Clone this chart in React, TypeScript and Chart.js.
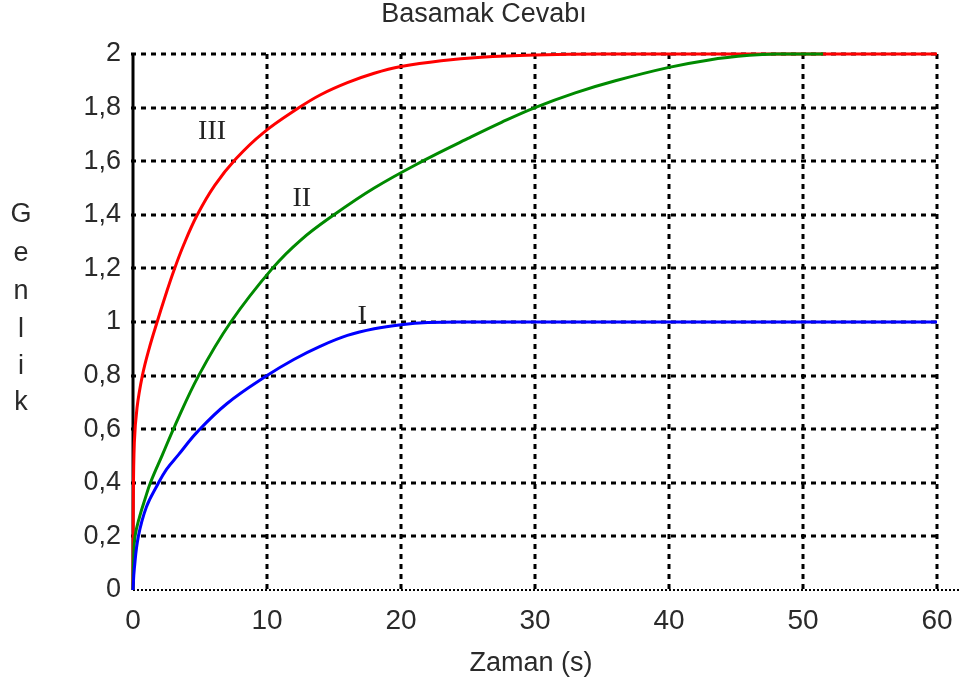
import { useEffect, useRef } from 'react';
import { Chart, registerables } from 'chart.js';

Chart.register(...registerables);

const chartTitle = 'Basamak Cevabı';
const xAxisTitle = 'Zaman (s)';
const yAxisTitle = 'Genlik';

const xTickLabels = ['0', '10', '20', '30', '40', '50', '60'];
const yTickLabels = ['0', '0,2', '0,4', '0,6', '0,8', '1', '1,2', '1,4', '1,6', '1,8', '2'];

// Curve I (blue)
const timeI = [0, 0.1, 0.4, 1, 1.8, 2.5, 3.4, 4.8, 7, 10, 12, 14, 16, 18, 20, 22, 25, 30, 40, 50, 60];
const ampI = [0, 0.08, 0.2, 0.31, 0.39, 0.45, 0.505, 0.59, 0.695, 0.8, 0.86, 0.91, 0.95, 0.975, 0.99, 0.998, 1, 1, 1, 1, 1];

// Curve II (green)
const timeII = [0, 0.05, 0.15, 0.5, 0.9, 1.3, 2.2, 3.1, 4.9, 7.3, 10.4, 12.5, 15, 18, 21.6, 25, 27.5, 30, 33, 36, 40, 43, 46, 48, 51.5];
const ampII = [0, 0.12, 0.2, 0.275, 0.34, 0.4, 0.505, 0.61, 0.8, 1.0, 1.2, 1.305, 1.4, 1.5, 1.6, 1.685, 1.745, 1.8, 1.855, 1.9, 1.95, 1.978, 1.995, 2, 2];

// Curve III (red)
const timeIII = [0, 0.02, 0.1, 0.3, 0.7, 1.2, 1.8, 2.4, 3.0, 3.8, 4.8, 6.1, 7.7, 9.7, 12.4, 14, 16, 18, 20, 23, 26, 30, 35, 45, 60];
const ampIII = [0, 0.3, 0.55, 0.68, 0.8, 0.9, 1.0, 1.095, 1.185, 1.29, 1.4, 1.51, 1.61, 1.705, 1.8, 1.848, 1.893, 1.928, 1.953, 1.975, 1.988, 1.996, 2, 2, 2];

// Curve name labels, in data coordinates
const curveLabels = ['III', 'II', 'I'];
const curveLabelX = [5.9, 12.6, 17.1];
const curveLabelY = [1.71, 1.46, 1.02];

const xGridValues = [10, 20, 30, 40, 50, 60];
const yGridValues = [0.2, 0.4, 0.6, 0.8, 1, 1.2, 1.4, 1.6, 1.8, 2];

const toPoints = (xs: number[], ys: number[]) => xs.map((x, i) => ({ x, y: ys[i] }));

const FONT = '"Liberation Sans", Arial, sans-serif';

const decorPlugin = {
  id: 'decor',
  beforeDatasetsDraw(chart: any) {
    const { ctx } = chart;
    const xs = chart.scales.x;
    const ys = chart.scales.y;
    const x0 = xs.getPixelForValue(0);
    const x60 = xs.getPixelForValue(60);
    const y0 = ys.getPixelForValue(0);
    const y2 = ys.getPixelForValue(2);
    ctx.save();
    ctx.strokeStyle = '#000';
    ctx.lineWidth = 3;
    ctx.setLineDash([5, 5]);
    for (const v of yGridValues) {
      const y = Math.round(ys.getPixelForValue(v));
      ctx.beginPath();
      ctx.moveTo(x0 - 2, y);
      ctx.lineTo(x60, y);
      ctx.stroke();
    }
    for (const v of xGridValues) {
      const x = Math.round(xs.getPixelForValue(v));
      ctx.beginPath();
      ctx.moveTo(x, y2);
      ctx.lineTo(x, y0);
      ctx.stroke();
    }
    // bottom fine dotted line
    ctx.lineWidth = 2;
    ctx.setLineDash([2, 2]);
    ctx.beginPath();
    ctx.moveTo(x0, Math.round(y0));
    ctx.lineTo(chart.width, Math.round(y0));
    ctx.stroke();
    // left solid axis
    ctx.setLineDash([]);
    ctx.lineWidth = 3;
    ctx.beginPath();
    ctx.moveTo(Math.round(x0), y2 - 1);
    ctx.lineTo(Math.round(x0), y0);
    ctx.stroke();
    ctx.restore();
  },
  afterDraw(chart: any) {
    const { ctx } = chart;
    const xs = chart.scales.x;
    const ys = chart.scales.y;
    ctx.save();
    ctx.fillStyle = '#2a2a2a';
    ctx.textAlign = 'center';
    ctx.textBaseline = 'middle';
    ctx.font = `27px ${FONT}`;
    ctx.fillText(chartTitle, 484, 15);
    ctx.fillText(xAxisTitle, (xs.left + xs.right) / 2 - 4, 664);
    const letters = yAxisTitle.split('');
    const letterY = [215, 254, 292, 330, 367, 403];
    letters.forEach((ch, i) => ctx.fillText(ch, 21, letterY[i]));
    ctx.font = `28px "Liberation Serif", "Times New Roman", serif`;
    ctx.fillStyle = '#222';
    curveLabels.forEach((t, i) => {
      ctx.fillText(t, xs.getPixelForValue(curveLabelX[i]), ys.getPixelForValue(curveLabelY[i]));
    });
    ctx.restore();
  },
};

export default function App() {
  const ref = useRef<HTMLCanvasElement | null>(null);
  useEffect(() => {
    if (!ref.current) return;
    const chart = new Chart(ref.current, {
      type: 'scatter',
      data: {
        datasets: [
          {
            label: 'I',
            data: toPoints(timeI, ampI),
            borderColor: '#0000ff',
            showLine: true,
          },
          {
            label: 'II',
            data: toPoints(timeII, ampII),
            borderColor: '#008a00',
            showLine: true,
          },
          {
            label: 'III',
            data: toPoints(timeIII, ampIII),
            borderColor: '#ff0000',
            showLine: true,
          },
        ] as any,
      },
      options: {
        animation: false,
        responsive: false,
        clip: false as any,
        layout: { padding: { top: 54, right: 22, left: 0, bottom: 0 } },
        elements: {
          point: { radius: 0, hoverRadius: 0 },
          line: { borderWidth: 3, tension: 0.4, cubicInterpolationMode: 'default', fill: false },
        },
        plugins: {
          legend: { display: false },
          title: { display: false },
          tooltip: { enabled: false },
        },
        scales: {
          x: {
            type: 'linear',
            min: 0,
            max: 60,
            afterFit: (s: any) => {
              s.height = 96;
              s.paddingRight = 0;
              s.paddingLeft = 0;
            },
            grid: { display: false, drawTicks: false },
            border: { display: false },
            ticks: {
              stepSize: 10,
              padding: 14,
              color: '#2a2a2a',
              font: { family: FONT, size: 28 },
              maxRotation: 0,
              callback: (_v: any, i: number) => xTickLabels[i],
            },
          },
          y: {
            type: 'linear',
            min: 0,
            max: 2,
            afterFit: (s: any) => {
              s.width = 133;
              s.paddingTop = 0;
              s.paddingBottom = 0;
            },
            grid: { display: false, drawTicks: false },
            border: { display: false },
            ticks: {
              stepSize: 0.2,
              padding: 12,
              color: '#2a2a2a',
              font: { family: FONT, size: 27 },
              callback: (_v: any, i: number) => yTickLabels[i],
            },
          },
        },
      } as any,
      plugins: [decorPlugin],
    });
    return () => chart.destroy();
  }, []);
  return (
    <div style={{ position: 'absolute', left: 0, top: 0, width: 959, height: 686, background: '#fff' }}>
      <canvas ref={ref} width={959} height={686} style={{ display: 'block' }} />
    </div>
  );
}
